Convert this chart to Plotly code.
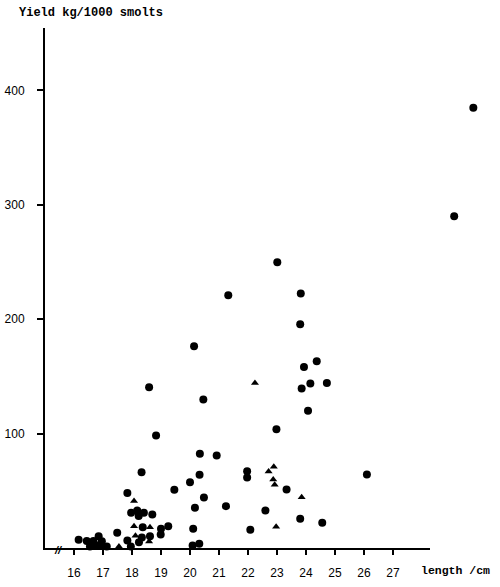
import plotly.graph_objects as go

# ---- data (length cm, yield kg/1000 smolts) ----
circle_x = [16.16, 16.44, 16.67, 16.85, 16.96, 16.55, 16.83, 17.13, 17.49, 17.84,
            17.96, 17.84, 17.97, 18.18, 18.23, 18.41, 18.70, 18.37, 18.34, 18.62,
            18.24, 18.33, 18.83, 18.59, 19.00, 18.99, 19.25, 19.46, 20.00, 20.14,
            24.37, 23.93, 23.85, 24.15, 24.72, 20.46, 24.07, 22.98, 20.34, 20.92,
            21.97, 21.97, 20.33, 23.33, 20.48, 20.17, 21.24, 22.60, 23.80, 24.56,
            20.11, 22.08, 20.09, 20.32, 23.01, 21.32, 23.82, 23.80, 29.77, 29.11,
            26.10]
circle_y = [7.2, 6.1, 6.1, 10.3, 5.9, 1.3, 2.2, 1.3, 13.3, 6.6,
            1.3, 48.1, 30.8, 32.8, 28.0, 30.8, 29.3, 18.2, 9.2, 10.3,
            5.1, 66.3, 98.4, 140.4, 16.8, 11.8, 19.1, 50.9, 57.5, 176.3,
            163.2, 158.2, 139.3, 143.7, 144.2, 129.9, 120.0, 103.7, 82.4, 80.9,
            67.0, 61.7, 64.0, 51.2, 44.2, 35.2, 36.6, 32.8, 25.5, 22.0,
            16.8, 15.9, 2.2, 3.7, 249.8, 220.9, 222.4, 195.5, 384.8, 290.0,
            64.3]

triangle_x = [16.69, 17.00, 17.55, 18.07, 18.07, 18.62, 18.12, 18.59,
              22.24, 22.89, 22.71, 22.87, 22.92, 23.85, 22.97]
triangle_y = [1.3, 1.3, 1.3, 41.1, 19.1, 18.2, 10.8, 5.7,
              144.2, 71.0, 66.9, 59.9, 55.3, 44.4, 18.5]

x_ticks = list(range(16, 28))
y_ticks = [100, 200, 300, 400]

X_MIN, X_AXIS_END, X_MAX = 15.0, 28.276, 30.345
Y_MAX = 454.5

fig = go.Figure()
# empty trace so the drawn length axis (x2) is rendered (added first -> drawn beneath)
fig.add_trace(go.Scatter(x=[], y=[], xaxis="x2", yaxis="y", mode="markers",
                         showlegend=False, hoverinfo="skip"))
fig.add_trace(go.Scatter(x=circle_x, y=circle_y, mode="markers",
                         marker=dict(symbol="circle", size=8, color="black"),
                         cliponaxis=False, showlegend=False, hoverinfo="x+y"))
fig.add_trace(go.Scatter(x=triangle_x, y=triangle_y, mode="markers",
                         marker=dict(symbol="triangle-up", size=7, color="black"),
                         cliponaxis=False, showlegend=False, hoverinfo="x+y"))

tick_font = dict(family="Liberation Sans", size=12, color="black")

fig.update_layout(
    width=500, height=587,
    margin=dict(l=45, r=10, t=28, b=39),
    paper_bgcolor="white", plot_bgcolor="rgba(0,0,0,0)",
    showlegend=False,
    # data axis spans the whole plot width (no line / ticks shown)
    xaxis=dict(range=[X_MIN, X_MAX], domain=[0, 1], showgrid=False, zeroline=False,
               showline=False, showticklabels=False, ticks="", automargin=False),
    # visible length axis, same scale, stops short like the original drawing
    xaxis2=dict(range=[X_MIN, X_AXIS_END],
                domain=[0, (X_AXIS_END - X_MIN) / (X_MAX - X_MIN)],
                anchor="y", tickvals=x_ticks, ticktext=[str(v) for v in x_ticks],
                showgrid=False, zeroline=False, showline=True, linecolor="black", linewidth=2,
                ticks="outside", ticklen=5, tickwidth=1.5, tickcolor="black",
                tickfont=tick_font, ticklabelstandoff=8, automargin=False),
    yaxis=dict(range=[0, Y_MAX], tickvals=y_ticks, ticktext=[str(v) for v in y_ticks],
               showgrid=False, zeroline=False, showline=True, linecolor="black", linewidth=2,
               ticks="outside", ticklen=6, tickwidth=1.5, tickcolor="black",
               tickfont=tick_font, ticklabelstandoff=10, automargin=False),
    annotations=[
        dict(text="<b>Yield kg/1000 smolts</b>", xref="paper", yref="paper",
             x=-0.063, y=1.0, yshift=15, xanchor="left", yanchor="middle", showarrow=False,
             font=dict(family="Liberation Mono", size=12, color="black")),
        dict(text="<b>length /cm</b>", xref="paper", yref="paper",
             x=0.841, y=0, yshift=-22, xanchor="left", yanchor="middle", showarrow=False,
             font=dict(family="Liberation Mono", size=11.5, color="black")),
        dict(text="<i><b>//</b></i>", xref="x", yref="y", x=15.45, y=0, yshift=-2,
             xanchor="center", yanchor="middle", showarrow=False,
             font=dict(family="Liberation Sans", size=11, color="black")),
    ],
)

fig.write_html("out.html", config={"displayModeBar": False},
               post_script="document.body.style.margin='0px';")
